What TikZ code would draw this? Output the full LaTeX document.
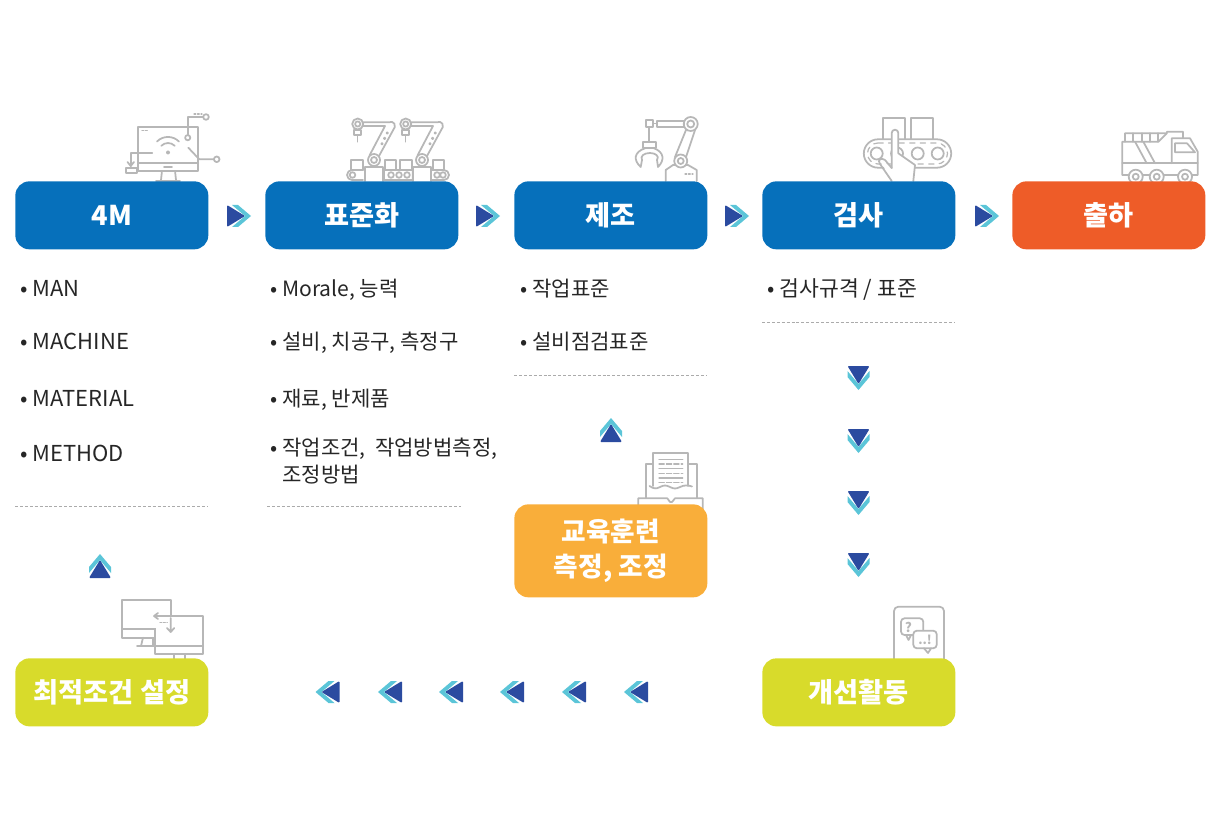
\documentclass[tikz,border=0pt]{standalone}
\usepackage{fontspec}
\usetikzlibrary{calc}
\setmainfont{Noto Sans CJK KR}
\definecolor{stepblue}{HTML}{0670BB}
\definecolor{shiporange}{HTML}{EE5C28}
\definecolor{trainorange}{HTML}{F9AE3A}
\definecolor{kaizenlime}{HTML}{D8DB2B}
\definecolor{chevdark}{HTML}{2B4BA0}
\definecolor{chevlight}{HTML}{5BC5D8}
\definecolor{icongray}{HTML}{B7B7B7}
\definecolor{rulegray}{HTML}{ABABAB}
\newcommand{\chevmark}[3]{%
  \begin{scope}[shift={(#1,#2)},rotate=#3]
    \fill[chevlight] (-7,-11) -- (-1,-11) -- (12,0) -- (-1,11) -- (-7,11) -- (6,0) -- cycle;
    \fill[chevdark,rounded corners=0.6pt] (-12,-11) -- (6,0) -- (-12,11) -- cycle;
  \end{scope}}

\begin{document}
\begin{tikzpicture}[
    x=0.02cm, y=-0.02cm,
    stepbox/.style={rectangle, rounded corners=8pt, minimum width=3.86cm, minimum height=1.36cm, text=white, font=\fontsize{15.5}{17}\selectfont\bfseries, anchor=north west, align=center, inner sep=0pt},
    bullet/.style={anchor=base west, inner sep=0pt, font=\fontsize{12}{15.3}\selectfont, text=black!85, align=left},
    sepline/.style={rulegray, dash pattern=on 1.7pt off 1.1pt, line width=0.55pt},
    icon/.style={icongray, line width=1pt, line join=round, line cap=round},
    iconfill/.style={icon, fill=white}
]
\useasboundingbox (0,0) rectangle (1222,837);

% Icons
% monitor
\draw[icon] (138.3,126.7) rectangle (198.3,170.7) (138.3,162.7) -- (198.3,162.7) (164,166.7) -- (172,166.7);
\draw[icon] (162,170.7) -- (161,180) (175,170.7) -- (176,180) (156,181) -- (180,181);
\draw[iconfill] (187.7,137.7) circle (2.6);
\draw[icon] (187.7,135) -- (187.7,116.7) -- (203,116.7);
\draw[icon] (206,117) circle (2.8) (216.7,159.3) circle (2.8);
\draw[icon] (188.3,147.7) -- (199.3,159.3) -- (214,159.3);
\draw[icon] (152.3,152.7) -- (130.7,152.7) -- (130.7,166);
\draw[icon] (127.5,162) -- (130.7,166) -- (134,162);
\draw[iconfill] (125.7,168.3) rectangle (136.7,172.7);
\draw[icon, densely dotted, line width=0.7pt] (194,114) -- (202,114) (142,130.7) -- (149,130.7);
\fill[icongray] (168,152.5) circle (2);
\draw[icon] (157,141.5) arc (225:315:15.5) (161.3,145.8) arc (225:315:9.5);
% robot arms
\foreach \dx in {0,48}{
  \begin{scope}[shift={(\dx,0)}]
    \draw[icon] (357.7,124) circle (5.5) (357.7,124) circle (2.6);
    \draw[icon] (354.3,130) rectangle (360.7,135) (357.5,135) -- (357.5,141.7);
    \draw[icon] (363,122.3) -- (389,122.3) arc (240:380:4) -- (379,156) (363,126) -- (385,126) -- (369.5,155.5);
    \draw[iconfill] (365,181) -- (365,167) -- (383,167) -- (383,181);
    \draw[iconfill] (374,160) circle (6) (374,160) circle (3);
    \foreach \t in {0.45,0.6,0.75}{\draw[icon, line width=0.7pt] ($(374,160)!\t!(391.7,124)$) circle (1);}
  \end{scope}
}
\draw[icon] (350.7,170) rectangle (363.3,160) (385,170) rectangle (396,160) (400,170) rectangle (411.7,160) (433,170) rectangle (444,160);
\draw[icon] (363,170) -- (352,170) arc (270:90:5) -- (363,180);
\draw[icon] (384,170) rectangle (412.7,180) (432,170) -- (444,170) arc (-90:90:5) -- (432,180);
\foreach \rx in {352.5,391,399,407,437,443}{\draw[icon] (\rx,175) circle (2.8);}
% robot with gripper
\draw[icon] (690.7,124) circle (7) (690.7,124) circle (3.5);
\draw[icon] (656.7,120.7) rectangle (683.7,127.3) (646,120) rectangle (653.3,127.3) (653.3,123.5) -- (656.7,123.5);
\draw[icon] (649.3,127.3) -- (649.3,141.7) (643.3,141.7) rectangle (656,148.3);
\draw[icon] (645,148.3) .. controls (634,152) and (633,160) .. (640.7,167) -- (642,160) .. controls (640,156) and (644,153) .. (650,153) .. controls (655,153) and (660,156) .. (657,160) -- (658,167) .. controls (665,160) and (664,152) .. (654,148.3);
\draw[icon] (686,130) -- (675,157) (695,130) -- (686,157);
\draw[iconfill] (665.7,181) -- (665.7,170) -- (673,165) -- (688,165) -- (696.7,170) -- (696.7,181);
\draw[iconfill] (680.7,161) circle (6.5) (680.7,161) circle (3);
\draw[icon, densely dotted, line width=0.7pt] (685,174) -- (693,174);
% conveyor with hand
\draw[icon] (883.3,139.3) -- (883.3,117.7) -- (905.3,117.7) -- (905.3,139.3) (911.3,139.3) -- (911.3,117.7) -- (933.3,117.7) -- (933.3,139.3);
\draw[icon] (878,139.3) -- (937,139.3) arc (-90:90:14.2) -- (878,167.7) arc (90:270:14.2) -- cycle;
\draw[icon, dashed, line width=0.7pt] (878,143) -- (937,143) arc (-90:90:10.5) -- (878,164) arc (90:270:10.5) -- cycle;
\foreach \rx in {876.7,897,917.7,937.7}{\draw[iconfill] (\rx,153.5) circle (6);}
\fill[white] (880,160) -- (891.7,166.7) -- (891.7,133) arc (180:360:3.3) -- (898.3,153.3) -- (915,165) -- (913.3,181) -- (891.7,181) -- cycle;
\draw[icon] (913.3,181) -- (915,165) -- (898.3,153.3) -- (898.3,133) arc (360:180:3.3) -- (891.7,168);
\draw[icon] (891.7,168) -- (885,160) .. controls (881,157) and (877,160) .. (880,164) -- (891.7,181);
% truck
\draw[icon] (1125,141.7) -- (1125,133.3) -- (1166.7,133.3) -- (1167,131.7) -- (1183,131.7) -- (1183,138.3);
\draw[icon] (1133.3,133.3) -- (1133.3,141.7) (1141.7,133.3) -- (1141.7,141.7) (1150,133.3) -- (1150,141.7) (1158.3,133.3) -- (1158.3,141.7);
\draw[icon] (1166.7,133.3) -- (1158.3,141.7) -- (1122.3,141.7) -- (1122.3,175) -- (1197.7,175) -- (1197.7,151.7) -- (1190,138.3) -- (1171.7,138.3) -- (1171.7,163.3);
\draw[icon] (1122.3,163.3) -- (1197.7,163.3);
\draw[icon] (1175,143.3) -- (1187,143.3) -- (1195,152.3) -- (1175,152.3) -- cycle;
\draw[icon] (1135,141.7) -- (1146.7,163.3) (1143.3,141.7) -- (1155,163.3);
\foreach \wx in {1135.7,1156.7,1185}{\draw[iconfill] (\wx,176.7) circle (7) (\wx,176.7) circle (3);}
% document tray
\draw[icon] (645.7,498) -- (645.7,464.3) -- (653.3,464.3) (688.3,464.3) -- (696.7,464.3) -- (696.7,498);
\draw[icon] (653.3,486) -- (653.3,452.7) -- (688.3,452.7) -- (688.3,486);
\draw[icon] (649.5,486) .. controls (654,489) and (656,489) .. (660,487) .. controls (664,485) and (666,485) .. (670,487) .. controls (674,489) and (676,489) .. (680,487) .. controls (684,485) and (688,485) .. (692,486.5);
\foreach \ly in {459.3,468.7,478}{\draw[icon, line width=0.7pt] (659,\ly) -- (682.7,\ly);}
\foreach \ly in {464,473.3,482.7}{\draw[icon, line width=0.7pt, dash pattern=on 3pt off 1.2pt] (659,\ly) -- (682.7,\ly);}
\draw[icon] (638.3,510) -- (638.3,498.3) -- (667.3,498.3) -- (670,502) -- (672,502) -- (675,498.3) -- (702.7,498.3) -- (702.7,510);
% two monitors
\draw[icon] (155,637.7) -- (122.3,637.7) -- (122.3,600) -- (170.7,600) -- (170.7,616) (122.3,629.3) -- (155,629.3);
\draw[icon] (143,637.7) -- (141,646) (153,637.7) -- (153,646) (137,646) -- (155,646);
\draw[iconfill] (155,616) rectangle (203.3,654.3);
\draw[icon] (155,646) -- (203.3,646) (174.3,654.3) -- (174.3,661) (185,654.3) -- (185,661);
\draw[iconfill, draw=none] (154,617) rectangle (170,628);
\draw[icon] (170.7,616) -- (154,616) (158,613) -- (154,616) -- (158,619);
\draw[icon] (170.7,618) -- (170.7,632) (167,628) -- (170.7,632) -- (174.3,628);
\draw[icon, densely dotted, line width=0.7pt] (160,622.3) -- (167.3,622.3);
% speech bubbles
\draw[icon] (894,662) -- (894,611) arc (180:270:4.3) -- (939.7,606.7) arc (270:360:4.3) -- (944,662);
\draw[icon, rounded corners=2pt] (901,618.3) rectangle (923.3,635);
\draw[icon] (906,635) -- (908.5,640) -- (911,635);
\draw[iconfill, rounded corners=2pt] (913.3,630.7) rectangle (936.7,648.3);
\draw[icon] (924,648.3) -- (928,653) -- (931,648.3);
\node[inner sep=0pt, text=icongray, font=\fontsize{7.5}{8}\selectfont\bfseries] (askmark) at (908.5,627) {?};
\node[inner sep=0pt, text=icongray, font=\fontsize{7}{8}\selectfont\bfseries] (replymark) at (925,640) {..!};

% Steps
\node[stepbox, fill=stepblue] (man4) at (15,181) {4M};
\node[stepbox, fill=stepblue] (standard) at (265,181) {표준화};
\node[stepbox, fill=stepblue] (make) at (514,181) {제조};
\node[stepbox, fill=stepblue] (inspect) at (762,181) {검사};
\node[stepbox, fill=shiporange] (ship) at (1012,181) {출하};

% Support boxes
\node[stepbox, fill=trainorange, minimum height=1.86cm, font=\fontsize{15.2}{20}\selectfont\bfseries] (train) at (514,504) {교육훈련\\측정, 조정};
\node[stepbox, fill=kaizenlime] (setup) at (15,658) {최적조건 설정};
\node[stepbox, fill=kaizenlime] (improve) at (762,658) {개선활동};

% Lists
\node[bullet, font=\fontsize{12.5}{15}\selectfont] (item1a) at (20,297) {• MAN};
\node[bullet, font=\fontsize{12.5}{15}\selectfont] (item1b) at (20,350) {• MACHINE};
\node[bullet, font=\fontsize{12.5}{15}\selectfont] (item1c) at (20,406) {• MATERIAL};
\node[bullet, font=\fontsize{12.5}{15}\selectfont] (item1d) at (20,461) {• METHOD};
\node[bullet] (item2a) at (270,297) {• Morale, 능력};
\node[bullet] (item2b) at (270,350) {• 설비, 치공구, 측정구};
\node[bullet] (item2c) at (270,406) {• 재료, 반제품};
\node[bullet] (item2d) at (270,455) {• 작업조건,\ \ 작업방법측정,};
\node[bullet] (item2e) at (282,482) {조정방법};
\node[bullet] (item3a) at (520,297) {• 작업표준};
\node[bullet] (item3b) at (520,350) {• 설비점검표준};
\node[bullet, font=\fontsize{12.3}{15}\selectfont] (item4a) at (767,297) {• 검사규격 / 표준};

% Separators
\draw[sepline] (15,506) -- (208,506);
\draw[sepline] (267,506) -- (461,506);
\draw[sepline] (514,375.5) -- (707,375.5);
\draw[sepline] (762,322) -- (955,322);

% Chevrons
\foreach \cx in {239,488,737,987}{\chevmark{\cx}{216}{0}}
\foreach \cy in {378,441,503,565}{\chevmark{858.5}{\cy}{-90}}
\foreach \cx in {327.5,390,451,512,574,636}{\chevmark{\cx}{692}{180}}
\chevmark{611}{430}{90}
\chevmark{100}{566}{90}

\end{tikzpicture}
\end{document}
